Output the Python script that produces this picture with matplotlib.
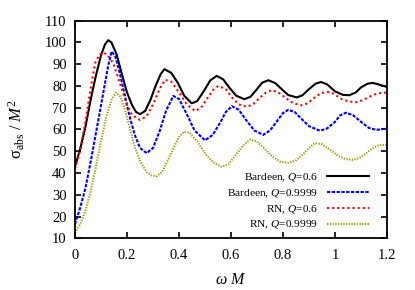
import matplotlib
matplotlib.use("Agg")
import matplotlib.pyplot as plt
from matplotlib.ticker import FuncFormatter

plt.rcParams['font.family'] = ['Liberation Serif', 'DejaVu Serif']
plt.rcParams['mathtext.fontset'] = 'custom'
plt.rcParams['mathtext.rm'] = 'Liberation Serif'
plt.rcParams['mathtext.it'] = 'Liberation Serif:italic'

# Bardeen, Q=0.6
bardeen_06_w = [0, 0.02, 0.04, 0.06, 0.08, 0.10, 0.115, 0.128, 0.14, 0.16, 0.18, 0.20,
                0.22, 0.235, 0.25, 0.27, 0.29, 0.31, 0.33, 0.344, 0.37, 0.395, 0.42,
                0.449, 0.47, 0.495, 0.52, 0.545, 0.57, 0.595, 0.62, 0.651, 0.675, 0.70,
                0.72, 0.744, 0.77, 0.795, 0.82, 0.853, 0.875, 0.90, 0.925, 0.946, 0.97,
                1.0, 1.03, 1.055, 1.08, 1.10, 1.125, 1.145, 1.17, 1.2]
bardeen_06_s = [43, 51, 61, 73.5, 84.5, 94, 99, 101, 100, 94.5, 85.5, 77,
                71, 68, 67, 68.5, 73.5, 80, 85.5, 87.7, 86, 81.5, 75.5,
                72, 73, 77.5, 82.5, 84.6, 83, 79, 75.5, 73.9, 75, 78.5,
                81.5, 82.6, 81.3, 78.5, 75.8, 74.7, 75.7, 78.5, 81, 81.8, 80.7,
                77.5, 75.9, 75.7, 77, 79.3, 81, 81.4, 80.6, 79.5]

# Bardeen, Q=0.9999
bardeen_09_w = [0, 0.02, 0.04, 0.06, 0.08, 0.10, 0.115, 0.128, 0.141, 0.155, 0.17, 0.19,
                0.21, 0.23, 0.25, 0.276, 0.30, 0.325, 0.35, 0.378, 0.40, 0.43, 0.46,
                0.50, 0.53, 0.56, 0.58, 0.603, 0.63, 0.66, 0.69, 0.724, 0.75, 0.775,
                0.80, 0.82, 0.845, 0.87, 0.90, 0.942, 0.97, 1.0, 1.02, 1.042, 1.07,
                1.10, 1.13, 1.16, 1.18, 1.2]
bardeen_09_s = [16.5, 24, 33, 45, 58, 71, 81, 89.5, 95.8, 93.5, 87, 76.5,
                66, 57.5, 51.5, 49.1, 51.5, 59, 68.5, 75.4, 74, 67, 59.5,
                55, 57.5, 63.5, 68, 70.7, 69, 64, 59.5, 57.5, 59.5, 63.5,
                67.5, 69, 68, 65, 61.5, 59.4, 60.5, 63.5, 66.5, 67.7, 66.5,
                63.5, 60.7, 59.8, 60.1, 60.5]

# RN, Q=0.6
rn_06_w = [0, 0.02, 0.04, 0.055, 0.077, 0.093, 0.109, 0.125, 0.147, 0.173, 0.199, 0.22,
           0.25, 0.275, 0.30, 0.325, 0.346, 0.37, 0.40, 0.43, 0.462, 0.485, 0.51,
           0.53, 0.551, 0.58, 0.605, 0.63, 0.66, 0.685, 0.71, 0.735, 0.756, 0.78,
           0.81, 0.84, 0.872, 0.895, 0.92, 0.945, 0.97, 0.995, 1.025, 1.055, 1.083,
           1.11, 1.14, 1.165, 1.19, 1.2]
rn_06_s = [42, 50.5, 63.5, 75, 90.4, 94.3, 95.3, 94.3, 90.4, 81.2, 71.5, 66.5,
           64.4, 66, 71.5, 78.5, 82.8, 82, 77, 71.5, 68.5, 70, 74.5,
           78, 80, 78.5, 74.5, 71.5, 70.4, 71.5, 74.5, 77, 78, 77.2,
           74.5, 72, 71.1, 72, 74.5, 76.6, 77.3, 76.4, 74, 72.8, 72.5,
           73.6, 75.5, 76.6, 76.9, 76.8]

# RN, Q=0.9999
rn_09_w = [0, 0.02, 0.04, 0.06, 0.08, 0.10, 0.12, 0.14, 0.158, 0.175, 0.19, 0.21,
           0.23, 0.25, 0.275, 0.295, 0.314, 0.335, 0.36, 0.385, 0.40, 0.42, 0.44,
           0.47, 0.50, 0.53, 0.564, 0.59, 0.62, 0.645, 0.673, 0.70, 0.73, 0.76,
           0.79, 0.82, 0.85, 0.88, 0.90, 0.923, 0.95, 0.98, 1.01, 1.04, 1.07,
           1.10, 1.13, 1.15, 1.173, 1.2]
rn_09_s = [12.5, 16.5, 22.5, 31.5, 42.5, 54.5, 65.5, 73.5, 76.9, 75, 70, 61,
           52, 45.5, 40.5, 38.8, 38.5, 40.5, 46.5, 53, 56.5, 59, 58.5,
           54.5, 49, 45, 42.9, 44, 48.5, 52.5, 55.3, 54.5, 51, 47.5,
           45.2, 44.7, 45.8, 49, 51.5, 53.7, 53.2, 50.8, 48, 46.4, 46,
           47.2, 50, 51.8, 52.9, 52.7]

fig = plt.figure(figsize=(4.15, 2.9), dpi=100)
ax = fig.add_axes([0.1807, 0.1783, 0.7518, 0.7507])

ax.plot(bardeen_06_w, bardeen_06_s, color='black', lw=1.5,
        label=r'Bardeen, $Q$=0.6')
ax.plot(bardeen_09_w, bardeen_09_s, color='#0000ff', lw=1.5, ls=(0, (1.6, 0.7)),
        label=r'Bardeen, $Q$=0.9999')
ax.plot(rn_06_w, rn_06_s, color='#ff0000', lw=1.5, ls=(0, (1, 1.45)),
        label=r'RN, $Q$=0.6')
ax.plot(rn_09_w, rn_09_s, color='#a0a010', lw=1.5, ls=(0, (0.65, 0.65)),
        label=r'RN, $Q$=0.9999')

ax.set_xlim(0, 1.2)
ax.set_ylim(10, 110)
ax.set_xticks([0, 0.2, 0.4, 0.6, 0.8, 1.0, 1.2])
ax.set_yticks(range(10, 111, 10))
ax.xaxis.set_major_formatter(FuncFormatter(lambda v, p: f"{v:g}"))
ax.tick_params(direction='in', top=True, right=True, length=4, width=1.2,
               labelsize=10.5)
ax.tick_params(axis='x', pad=8)
ax.tick_params(axis='y', pad=6)
for sp in ax.spines.values():
    sp.set_linewidth(1.3)

ax.set_xlabel(r'$\omega\ M$', fontsize=11.5)
ax.xaxis.set_label_coords(0.5, -0.155)
ax.set_ylabel(r'$\mathrm{\sigma}_{\mathrm{abs}}\ /\ M^2$', fontsize=12)
ax.yaxis.set_label_coords(-0.155, 0.5)

ax.legend(loc='lower right', frameon=False, markerfirst=False, fontsize=8.2,
          handlelength=3.7, handletextpad=0.8, labelspacing=0.3,
          borderaxespad=0.2, bbox_to_anchor=(0.965, 0.0))

fig.savefig('out.png', dpi=100)
